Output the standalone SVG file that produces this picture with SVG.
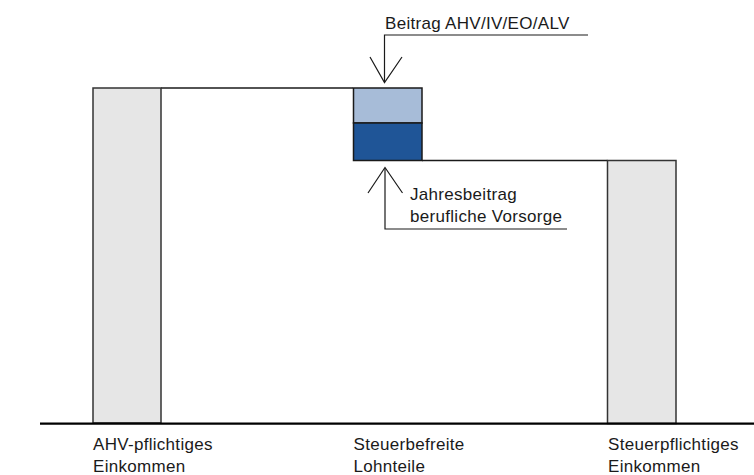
<svg xmlns="http://www.w3.org/2000/svg" width="754" height="475" viewBox="0 0 754 475">
<style>
.t{font-family:"Liberation Sans",Arial,sans-serif;font-size:17px;fill:#1a1a1a;letter-spacing:0.3px}
.bar{fill:#e6e6e6;stroke:#333;stroke-width:1.5}
.ln{stroke:#1a1a1a;stroke-width:1.5;fill:none}
.ar{stroke:#1a1a1a;stroke-width:1.2;fill:none}
</style>
<rect width="754" height="475" fill="#fff"/>
<g id="connectors">
<path class="ln" d="M161,88 H353"/>
<path class="ln" d="M422,160.5 H607.5"/>
<path class="ar" d="M588,35 H384.5 V82"/>
<path class="ar" d="M370,57 L384.5,82.5 L402,57"/>
<path class="ar" d="M567,229 H385 V168"/>
<path class="ar" d="M368,193 L385,167.5 L402.5,193"/>
</g>
<g id="ahv-bar">
<rect class="bar" x="93" y="88" width="68" height="335"/>
</g>
<g id="steuerpflichtig-bar">
<rect class="bar" x="607.5" y="160.5" width="68.5" height="263"/>
</g>
<g id="beitrag-box">
<rect x="353.5" y="88" width="68.5" height="35" fill="#a7bcd8" stroke="#1a1a1a" stroke-width="1.5"/>
</g>
<g id="bv-box">
<rect x="353.5" y="123" width="68.5" height="37.5" fill="#1f5597" stroke="#1a1a1a" stroke-width="1.5"/>
</g>
<g id="baseline">
<path d="M40,423.7 H754" stroke="#000" stroke-width="2.2"/>
</g>
<g id="label-beitrag">
<text class="t" x="385" y="29">Beitrag AHV/IV/EO/ALV</text>
</g>
<g id="label-bv">
<text class="t" x="410" y="200">Jahresbeitrag</text>
<text class="t" x="410" y="221.5">berufliche Vorsorge</text>
</g>
<g id="label-ahv">
<text class="t" x="93" y="450">AHV-pflichtiges</text>
<text class="t" x="93" y="472">Einkommen</text>
</g>
<g id="label-steuerbefreit">
<text class="t" x="353.5" y="450">Steuerbefreite</text>
<text class="t" x="353.5" y="472">Lohnteile</text>
</g>
<g id="label-steuerpflichtig">
<text class="t" x="608" y="450">Steuerpflichtiges</text>
<text class="t" x="608" y="472">Einkommen</text>
</g>
</svg>
